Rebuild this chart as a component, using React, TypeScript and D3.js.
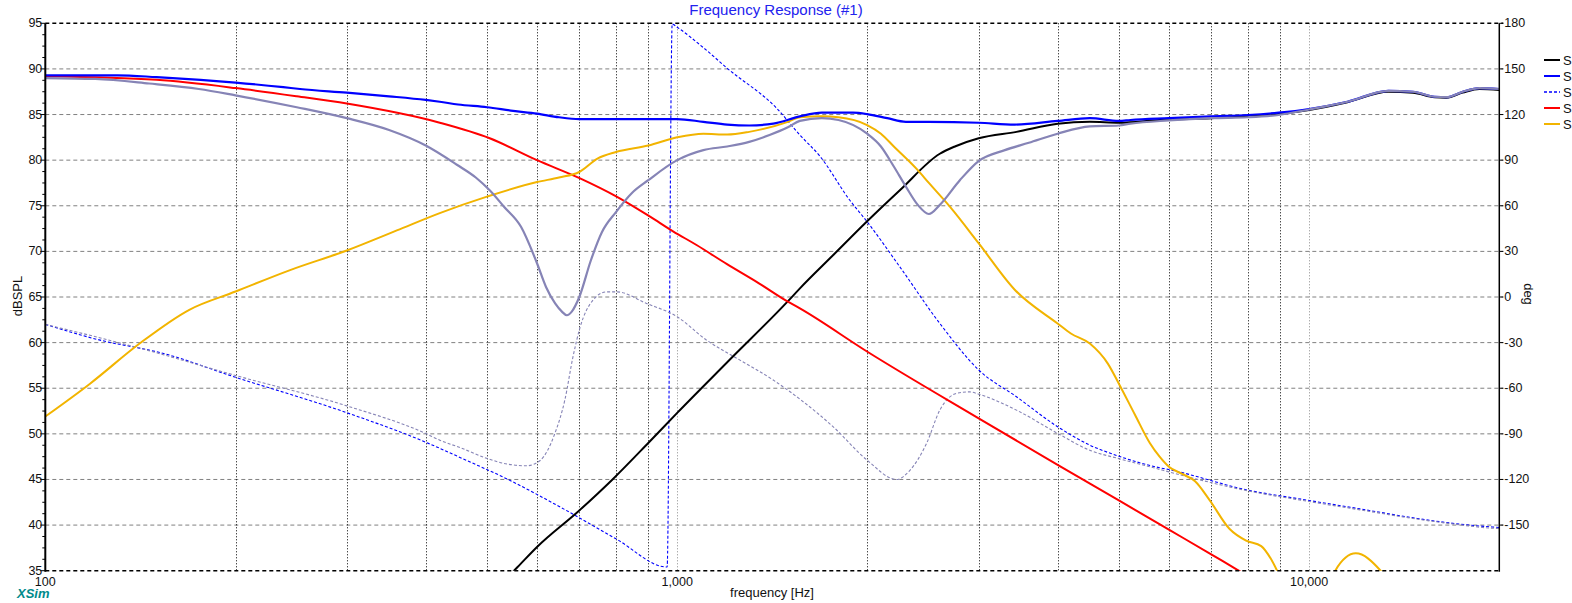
import React from "react";
import * as d3 from "d3";

type Pt = [number, number];

// ---- data (frequency Hz, value) ----
const s1Mag: Pt[] = [
  [480, 31.2], [520, 33.2], [559, 35.4], [600, 37.6], [700, 41.6], [790, 45.0], [900, 49.0],
  [1000, 52.3], [1200, 57.85], [1500, 64.6], [1564, 65.95], [1766, 69.6], [1998, 73.3],
  [2251, 76.7], [2604, 80.7], [2751, 81.5], [3000, 82.4], [3443, 83.1], [4000, 84.0],
  [4500, 84.2], [5000, 84.1], [5803, 84.4], [7000, 84.6], [8000, 84.8], [10000, 85.5],
  [11500, 86.35], [13350, 87.5], [14600, 87.4], [15800, 86.9], [16500, 86.85],
  [17500, 87.4], [18600, 87.8], [20000, 87.7],
];

const s2Mag: Pt[] = [
  [100, 89.3], [130, 89.3], [150, 89.1], [176, 88.8], [200, 88.5], [238, 88.0], [253, 87.8],
  [300, 87.4], [350, 87.0], [400, 86.6], [421, 86.4], [450, 86.1], [500, 85.8], [550, 85.4],
  [600, 85.1], [650, 84.7], [700, 84.5], [1000, 84.5], [1100, 84.2], [1200, 83.9],
  [1300, 83.8], [1419, 84.0], [1564, 84.8], [1694, 85.2], [1897, 85.2], [1998, 85.05],
  [2150, 84.6], [2301, 84.2], [2500, 84.2], [3000, 84.1], [3421, 83.9], [4000, 84.3],
  [4498, 84.6], [5000, 84.3], [5216, 84.4], [6000, 84.6], [7000, 84.8], [8000, 84.95],
  [8950, 85.2], [10000, 85.6], [11500, 86.4], [13350, 87.6], [14600, 87.5], [15800, 86.95],
  [16500, 86.9], [17500, 87.5], [18600, 87.9], [20000, 87.8],
];

const s2Phase: Pt[] = [
  [100, -18], [127, -30], [141, -33.6], [150, -36], [200, -52.8], [300, -76.1], [400, -95.5],
  [421, -99.5], [453, -105.5], [540, -120], [652, -138], [800, -159], [964, -177.6],
  [982, 179.5], [1000, 177.4], [1100, 164], [1200, 150.4], [1437, 124.1], [1564, 106.5],
  [1682, 92.6], [1876, 63.6], [1998, 49.5], [2251, 19.8], [2604, -17.4], [3000, -48],
  [3443, -65.6], [4000, -85.3], [4498, -97.4], [5000, -104.7], [5803, -112.3],
  [6000, -113.5], [8000, -127], [10000, -133.8], [12460, -140.4], [14500, -145],
  [16700, -148.6], [19400, -151.2], [20000, -151.6],
];

const s4Mag: Pt[] = [
  [100, 89.2], [150, 88.8], [200, 87.9], [250, 87.0], [300, 86.2], [421, 84.1],
  [505, 82.4], [600, 80.0], [702, 78.0], [802, 76.0], [906, 73.8], [985, 72.2],
  [1073, 70.7], [1199, 68.6], [1347, 66.5], [1487, 64.6], [1564, 63.75], [2000, 59.0],
  [3000, 51.7], [4000, 46.6], [5000, 42.7], [6000, 39.5], [7000, 36.8], [7700, 35.1],
  [8500, 33.4],
];

const s5Mag: Pt[] = [
  [100, 51.9], [117.7, 55.5], [141, 59.9], [169, 63.6], [200, 65.6], [244, 67.95],
  [300, 70.1], [360, 72.3], [421, 74.2], [500, 76.0], [600, 77.6], [650, 78.1], [700, 78.7],
  [749, 80.2], [800, 80.9], [900, 81.6], [1000, 82.5], [1100, 82.9], [1200, 82.8],
  [1300, 83.1], [1497, 84.2], [1564, 84.7], [1694, 84.8], [1800, 84.7], [1998, 83.85],
  [2101, 82.9], [2202, 81.5], [2403, 78.9], [2502, 77.5], [2701, 74.9], [2999, 70.9],
  [3421, 65.8], [3999, 62.1], [4198, 61.0], [4498, 59.9], [4803, 57.7], [5000, 55.5],
  [5302, 52.1], [5597, 49.0], [5800, 47.5], [6000, 46.4], [6300, 45.6], [6600, 44.8],
  [6950, 42.8], [7480, 39.6], [7950, 38.3], [8400, 37.7], [8700, 36.3], [8900, 35.0],
  [9300, 32.0], [10000, 30.0], [10600, 32.5], [11000, 35.0], [11855, 36.9], [12980, 35.0],
  [13500, 33.5], [15000, 30.0],
];

const sumMag: Pt[] = [
  [100, 89.0], [120, 88.9], [146, 88.4], [175, 87.8], [200, 87.1], [250, 85.8], [300, 84.6],
  [350, 83.3], [400, 81.6], [448, 79.5], [480, 78.1], [505, 76.7], [532, 74.9],
  [566, 72.7], [600, 68.7], [620, 66.1], [641, 64.3], [657, 63.4], [669, 63.0], [681, 63.4],
  [700, 65.0], [730, 69.0], [760, 72.1], [800, 74.3], [848, 76.4], [900, 77.8],
  [1000, 80.0], [1100, 81.1], [1200, 81.5], [1300, 82.0], [1400, 82.75], [1497, 83.6],
  [1564, 84.3], [1694, 84.6], [1800, 84.4], [1998, 82.9], [2101, 81.5], [2202, 79.3],
  [2301, 77.1], [2403, 75.1], [2502, 74.1], [2604, 75.1], [2801, 77.8], [2999, 79.9],
  [3300, 81.1], [3601, 81.9], [3999, 82.9], [4498, 83.7], [5000, 83.8], [5216, 84.0],
  [6000, 84.35], [7000, 84.6], [8000, 84.7], [8950, 84.95], [10000, 85.55], [11500, 86.4],
  [13350, 87.6], [14600, 87.5], [15800, 86.95], [16500, 86.9], [17500, 87.5], [18600, 87.9],
  [20000, 87.8],
];

const sumPhase: Pt[] = [
  [100, -18], [141, -33.6], [200, -51.6], [300, -71.6], [400, -89.8], [421, -94.2],
  [453, -99], [499, -106], [540, -110], [578, -111], [607, -107.5], [640, -90], [664, -67.8],
  [684, -39.4], [702, -19.9], [736, -2.0], [773, 3.4], [802, 3.4], [894, -4.2], [1000, -13],
  [1113, -28.4], [1257, -41.5], [1419, -54.6], [1564, -67.2], [1766, -85.4], [1998, -107.3],
  [2224, -120], [2335, -114], [2481, -96.3], [2604, -74.4], [2767, -63.4], [2905, -62.4],
  [3000, -63.9], [3443, -74.4], [4000, -89.7], [4498, -100.8], [5000, -106.3],
  [5803, -113.4], [6000, -115], [8000, -127.5], [10000, -134.5], [12460, -141],
  [14500, -145.5], [16700, -149], [19400, -152], [20000, -152.3],
];

const dbTicks = [35, 40, 45, 50, 55, 60, 65, 70, 75, 80, 85, 90, 95];
const degTicks = [180, 150, 120, 90, 60, 30, 0, -30, -60, -90, -120, -150];
const freqLabels: [number, string][] = [[100, "100"], [1000, "1,000"], [10000, "10,000"]];
const gridFreqs = [200, 300, 400, 500, 600, 700, 800, 900, 1000, 2000, 3000, 4000, 5000, 6000, 7000, 8000, 9000, 10000];
const legendLabels = ["S", "S", "S", "S", "S"];

const W = 1572;
const H = 603;
const L = 45.3, R = 1499.3, T = 23.3, B = 570.7;
const FONT = "'Liberation Sans', Arial, sans-serif";

const x = d3.scaleLog().domain([100, 20000]).range([L, R]);
const yDb = d3.scaleLinear().domain([35, 95]).range([B, T]);
const yDeg = d3.scaleLinear().domain([-180, 180]).range([B, T]);

const lineDb = d3.line<Pt>().x((d) => x(d[0])).y((d) => yDb(d[1])).curve(d3.curveMonotoneX);
const lineDeg = d3.line<Pt>().x((d) => x(d[0])).y((d) => yDeg(d[1])).curve(d3.curveMonotoneX);

const BLUE = "#0000ff";
const RED = "#ff0000";
const ORANGE = "#f2b400";
const GRAY = "#8684b6";

export default function App() {
  const minor: number[] = [];
  for (let v = 35; v <= 95.001; v += 1.25) {
    if (Math.abs(v / 5 - Math.round(v / 5)) > 0.01) minor.push(v);
  }
  const legendStyles = [
    { c: "#000", dash: undefined, w: 2 },
    { c: BLUE, dash: undefined, w: 2 },
    { c: BLUE, dash: "3,2", w: 1.3 },
    { c: RED, dash: undefined, w: 2 },
    { c: ORANGE, dash: undefined, w: 2 },
  ];
  return (
    <svg
      width={W}
      height={H}
      style={{ position: "absolute", left: 0, top: 0, background: "#fff" }}
      fontFamily={FONT}
    >
      <defs>
        <clipPath id="plot">
          <rect x={L} y={T} width={R - L} height={B - T} />
        </clipPath>
      </defs>
      <rect x={0} y={0} width={W} height={H} fill="#fff" />

      {/* horizontal grid */}
      {dbTicks.filter((v) => v > 35 && v < 95).map((v) => (
        <line key={"h" + v} x1={L} x2={R + 4} y1={yDb(v)} y2={yDb(v)} stroke="#808080" strokeWidth={1} strokeDasharray="4,3" />
      ))}
      {/* vertical grid */}
      {gridFreqs.map((f) => (
        <line
          key={"v" + f}
          x1={Math.round(x(f)) + 0.5}
          x2={Math.round(x(f)) + 0.5}
          y1={T}
          y2={B}
          stroke={f === 1000 || f === 10000 ? "#8a8a8a" : "#000"}
          strokeWidth={1}
          strokeDasharray="1,2"
        />
      ))}

      {/* curves */}
      <g clipPath="url(#plot)" fill="none" strokeLinejoin="round">
        <path d={lineDeg(s2Phase) || ""} stroke={BLUE} strokeWidth={1.1} strokeDasharray="3,2" />
        <path d={lineDeg(sumPhase) || ""} stroke={GRAY} strokeWidth={1.1} strokeDasharray="3,2" />
        <path d={lineDb(s1Mag) || ""} stroke="#000" strokeWidth={2} />
        <path d={lineDb(s4Mag) || ""} stroke={RED} strokeWidth={2} />
        <path d={lineDb(s5Mag) || ""} stroke={ORANGE} strokeWidth={2} />
        <path d={lineDb(s2Mag) || ""} stroke={BLUE} strokeWidth={2.2} />
        <path d={lineDb(sumMag) || ""} stroke={GRAY} strokeWidth={2.2} />
      </g>

      {/* frame */}
      <line x1={L} x2={R + 4} y1={T} y2={T} stroke="#000" strokeWidth={1.4} strokeDasharray="4,3" />
      <line x1={L} x2={R} y1={B} y2={B} stroke="#000" strokeWidth={1.6} strokeDasharray="4,3" />
      <line x1={L} x2={L} y1={T} y2={B + 1} stroke="#000" strokeWidth={2} />
      <line x1={R} x2={R} y1={T} y2={B + 1} stroke="#000" strokeWidth={1.5} />

      {/* left ticks */}
      {dbTicks.map((v) => (
        <g key={"lt" + v}>
          <line x1={L - 5} x2={L} y1={yDb(v)} y2={yDb(v)} stroke="#000" strokeWidth={1} />
          <text x={L - 3} y={yDb(v) + 4} fontSize={12.5} textAnchor="end" fill="#111">{v}</text>
        </g>
      ))}
      {minor.map((v) => (
        <line key={"mt" + v} x1={L - 3} x2={L} y1={yDb(v)} y2={yDb(v)} stroke="#000" strokeWidth={1} />
      ))}
      {/* right ticks */}
      {degTicks.map((v) => (
        <g key={"rt" + v}>
          <line x1={R} x2={R + 4} y1={yDeg(v)} y2={yDeg(v)} stroke="#000" strokeWidth={1} />
          <text x={R + 5} y={yDeg(v) + 4} fontSize={12.5} textAnchor="start" fill="#111">{v}</text>
        </g>
      ))}
      {/* x labels */}
      {freqLabels.map(([f, s]) => (
        <text key={"xl" + f} x={x(f)} y={586} fontSize={12.5} textAnchor="middle" fill="#111">{s}</text>
      ))}

      {/* titles */}
      <text x={776} y={15} fontSize={15} textAnchor="middle" fill="#2222ee">Frequency Response (#1)</text>
      <text x={772} y={597} fontSize={13} textAnchor="middle" fill="#111">frequency [Hz]</text>
      <text transform="translate(21.5,296) rotate(-90)" fontSize={13} textAnchor="middle" fill="#111">dBSPL</text>
      <text transform="translate(1524,294) rotate(90)" fontSize={13} textAnchor="middle" fill="#111">deg</text>
      <text x={17} y={598} fontSize={13} fontWeight="bold" fontStyle="italic" fill="#008b8b">XSim</text>

      {/* legend */}
      {legendLabels.map((s, i) => {
        const ly = 60 + i * 16;
        const st = legendStyles[i];
        return (
          <g key={"lg" + i}>
            <line x1={1544} x2={1560} y1={ly} y2={ly} stroke={st.c} strokeWidth={st.w} strokeDasharray={st.dash} />
            <text x={1563} y={ly + 4.5} fontSize={13} fill="#111">{s}</text>
          </g>
        );
      })}
    </svg>
  );
}
